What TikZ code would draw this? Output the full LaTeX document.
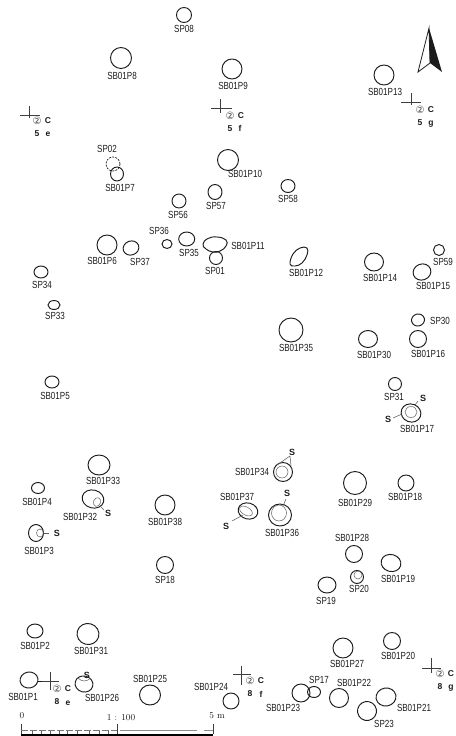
\documentclass[tikz,border=0pt]{standalone}
\usepackage{fontspec}
\newfontfamily\labfont[FakeStretch=0.78]{Liberation Sans}
\newfontfamily\gridfont{Liberation Sans Bold}
\newfontfamily\circfont{DejaVu Sans}
\definecolor{ink}{HTML}{1C1C1C}
\newcount\lbn
\tikzset{
  pit/.style={draw=ink,line width=0.95pt},
  inner pit/.style={draw=ink!70,line width=0.5pt},
  thin mark/.style={draw=ink!70,line width=0.55pt},
  cross/.style={draw=ink!85,line width=0.6pt},
  lab/.style={inner sep=0pt,text=ink,font=\labfont\fontsize{10.3}{11}\selectfont},
  smark/.style={inner sep=0pt,text=ink,font=\gridfont\fontsize{9}{10}\selectfont},
  grid/.style={inner sep=0pt,text=ink,font=\gridfont\fontsize{8.5}{10}\selectfont},
  gridc/.style={inner sep=0pt,text=ink!80,font=\circfont\fontsize{10}{11}\selectfont},
  scalet/.style={inner sep=0pt,text=ink,font=\fontsize{9}{10}\selectfont},
}
\newcommand{\pit}[5]{\draw[pit,rotate around={#5:(#1,#2)}] (#1,#2) ellipse [x radius=#3,y radius=#4];}
\newcommand{\ipit}[5]{\draw[inner pit,rotate around={#5:(#1,#2)}] (#1,#2) ellipse [x radius=#3,y radius=#4];}
\newcommand{\lb}[3]{\global\advance\lbn by 1 \node[lab] (L\the\lbn) at (#1,#2) {#3};}
\newcommand{\sm}[2]{\global\advance\lbn by 1 \node[smark] (L\the\lbn) at (#1,#2) {S};}
% grid mark: cross x, cross y, h-from, h-to, v-from, v-to, text x, text y, number, letter
\newcommand{\gm}[9]{\draw[cross] (#3,#2) -- (#4,#2) (#1,#5) -- (#1,#6);
  \global\advance\lbn by 1 \node[gridc] (L\the\lbn) at (#7,#8) {②};
  \global\advance\lbn by 1 \node[grid] (L\the\lbn) at (#7+11,#8) {C};
  \global\advance\lbn by 1 \node[grid] (L\the\lbn) at (#7,#8+13) {#9};}
\newcommand{\gl}[3]{\global\advance\lbn by 1 \node[grid] (L\the\lbn) at (#1,#2) {#3};}
\begin{document}
\begin{tikzpicture}[x=1pt,y=-1pt]
\useasboundingbox (0,0) rectangle (455,736);
\fill[white] (0,0) rectangle (455,736);
% north arrow
\draw[line width=0.8pt,draw=ink,line join=miter] (429,28) -- (418,72) -- (430,63) -- cycle;
\fill[ink] (429,28) -- (430,63) -- (442,72) -- cycle;
% grid marks
\gm{29}{115}{20}{40}{106}{118}{37}{121}{5}\gl{48}{134}{e}
\gm{220.5}{108}{211}{232}{99}{113}{230}{116}{5}\gl{240}{128}{f}
\gm{411}{102}{401}{421}{93}{105}{420}{110}{5}\gl{431}{124}{g}
\gm{50}{681}{42}{59}{672}{690}{57}{689}{8}\gl{68}{703}{e}
\gm{241}{674}{233}{251}{666}{685}{250}{681}{8}\gl{261}{694}{f}
\gm{431}{668}{422}{441}{658}{673}{440}{674}{8}\gl{451}{688}{g}
% top part
\pit{184}{15}{7.5}{7.5}{0}\lb{184}{29}{SP08}
\pit{121}{58}{10.5}{10.5}{0}\lb{122}{76}{SB01P8}
\pit{232}{69}{10}{10}{0}\lb{233}{86}{SB01P9}
\pit{384}{75}{10}{10}{0}\lb{385}{92}{SB01P13}
\lb{107}{149}{SP02}
\draw[pit,dashed,line width=0.7pt,dash pattern=on 2pt off 1.2pt] (113,164) circle [radius=7];
\pit{117}{174}{6.5}{7}{0}\lb{120}{188}{SB01P7}
\pit{228}{160}{10.5}{10.5}{0}\lb{245}{174}{SB01P10}
\pit{215}{192}{7}{7.5}{0}\lb{216}{206}{SP57}
\pit{288}{186}{7}{6.5}{0}\lb{288}{199}{SP58}
\pit{179}{201}{7}{7}{0}\lb{178}{215}{SP56}
\lb{159}{231}{SP36}
\pit{167}{244}{5}{4.5}{0}
\pit{186.7}{239}{8}{7}{0}\lb{189}{253}{SP35}
\pit{107}{245}{10}{10}{0}\lb{102}{261}{SB01P6}
\pit{131}{248}{8}{7}{20}\lb{140}{262}{SP37}
\draw[pit] plot[smooth cycle,tension=0.8] coordinates {(203,244) (208,238.5) (217,237) (226,240) (226,246) (220,251) (213,252) (206,249)};
\lb{248}{246}{SB01P11}
\pit{216}{258}{6.5}{6.5}{0}\lb{215}{271}{SP01}
\draw[pit] plot[smooth cycle,tension=0.7] coordinates {(290,264) (293,254) (300,248) (307,248) (307,255) (302,263) (295,266)};
\lb{306}{273}{SB01P12}
\pit{374}{262}{9.5}{9}{0}\lb{380}{278}{SB01P14}
\pit{439}{250}{5.5}{5.5}{0}\lb{443}{262}{SP59}
\pit{422}{272}{9}{8}{20}\lb{433}{286}{SB01P15}
\pit{41}{272}{7}{6}{0}\lb{42}{285}{SP34}
\pit{54}{305}{6}{4.5}{0}\lb{55}{316}{SP33}
\pit{418}{320}{6.5}{6}{15}\lb{440}{321}{SP30}
\pit{291}{330}{12}{12}{0}\lb{296}{348}{SB01P35}
\pit{368}{339}{9.5}{8.5}{0}\lb{374}{355}{SB01P30}
\pit{418}{339}{8.5}{8.5}{0}\lb{428}{354}{SB01P16}
\pit{52}{382}{7}{6}{0}\lb{55}{396}{SB01P5}
\pit{395}{384}{6.5}{6.5}{0}\lb{394}{397}{SP31}
\sm{423}{398}
\pit{411}{413}{10}{9}{-20}\ipit{411}{412}{6}{5.5}{0}
\draw[thin mark] (393,418) -- (402,414) (418,401) -- (415,405);
\sm{388}{419}\lb{417}{429}{SB01P17}
% middle part
\pit{99}{465}{11}{10}{0}\lb{103}{481}{SB01P33}
\pit{38}{488}{6.5}{5.5}{0}\lb{37}{502}{SB01P4}
\pit{93}{499}{11}{9}{-15}\ipit{97}{502}{3.5}{4.5}{-20}
\draw[thin mark] (100,506) -- (104,510);
\sm{108}{513}\lb{80}{517}{SB01P32}
\pit{36}{533}{7.5}{8.5}{0}\ipit{40}{533}{3.5}{4}{0}
\draw[thin mark] (44,533) -- (49,533);
\sm{57}{533}\lb{39}{551}{SB01P3}
\pit{283}{472}{9.5}{9.5}{0}\ipit{282}{472}{6}{6}{0}
\draw[thin mark] (290,456) -- (277,465) (290,456) -- (291,466);
\sm{292}{452}\lb{252}{472}{SB01P34}
\pit{355}{483}{11.5}{11.5}{0}\lb{355}{503}{SB01P29}
\pit{406}{483}{8}{8}{0}\lb{405}{497}{SB01P18}
\pit{165}{505}{10}{10}{0}\lb{165}{522}{SB01P38}
\lb{237}{497}{SB01P37}
\pit{248}{511}{10}{8}{-15}\ipit{246}{511}{7}{4}{-30}
\draw[thin mark] (232,521) -- (243,515);
\sm{226}{526}
\pit{280}{515}{11.5}{11}{0}\ipit{279}{513}{7.5}{8}{0}
\draw[thin mark] (286,499) -- (283,506);
\sm{287}{493}\lb{282}{533}{SB01P36}
\lb{352}{538}{SB01P28}
\pit{354}{554}{8.5}{8.5}{0}
\pit{391}{563}{10}{8.5}{-15}\lb{398}{579}{SB01P19}
\pit{357}{577}{6.5}{6.5}{0}\ipit{358}{575}{4}{4}{0}\lb{359}{589}{SP20}
\pit{327}{585}{9}{8}{0}\lb{326}{601}{SP19}
\pit{165}{565}{8.5}{8.5}{0}\lb{165}{580}{SP18}
% bottom part
\pit{35}{631}{8}{7}{0}\lb{35}{646}{SB01P2}
\pit{88}{634}{11}{10.5}{-15}\lb{91}{651}{SB01P31}
\pit{392}{641}{8.5}{8.5}{0}\lb{398}{656}{SB01P20}
\pit{343}{648}{10}{10}{0}\lb{347}{664}{SB01P27}
\pit{29}{680}{9}{8}{10}\lb{23}{697}{SB01P1}
\draw[pit,line width=0.7pt] (38,681) -- (42,681);
\pit{84}{684}{9}{8}{-15}
\draw[inner pit] (78,678) .. controls (82,682) and (86,682) .. (91,678);
\sm{87}{675}\lb{102}{698}{SB01P26}
\lb{150}{679}{SB01P25}\pit{150}{695}{10.5}{10}{0}
\lb{211}{687}{SB01P24}\pit{231}{701}{8}{8}{0}
\pit{301}{693}{9}{9}{0}\lb{283}{708}{SB01P23}
\pit{314}{692}{6.5}{5.5}{0}\lb{319}{680}{SP17}
\pit{339}{698}{9.5}{9.5}{0}\lb{354}{683}{SB01P22}
\pit{386}{697}{10}{9}{10}\lb{414}{708}{SB01P21}
\pit{367}{711}{9.5}{9.5}{10}\lb{384}{724}{SP23}
% scale
\global\advance\lbn by 1 \node[scalet] (L\the\lbn) at (22,716) {0};
\global\advance\lbn by 1 \node[scalet] (L\the\lbn) at (121,718) {1 : 100};
\global\advance\lbn by 1 \node[scalet] (L\the\lbn) at (217,716) {5 m};
\fill[black] (21,733.5) rectangle (213,736);
\draw[cross] (21,724) -- (21,734) (117,724) -- (117,734) (213,724) -- (213,734);
\draw[draw=ink!60,line width=0.6pt,dash pattern=on 7pt off 2pt] (21,730) -- (117,730);
\draw[draw=ink!50,line width=0.8pt] (120,730) -- (197,730) (204,730) -- (213,730);
\foreach \tx in {32,41,50,59,67,77,89,99,108} \draw[draw=ink!70,line width=0.5pt] (\tx,731) -- (\tx,734);
\end{tikzpicture}
\end{document}
